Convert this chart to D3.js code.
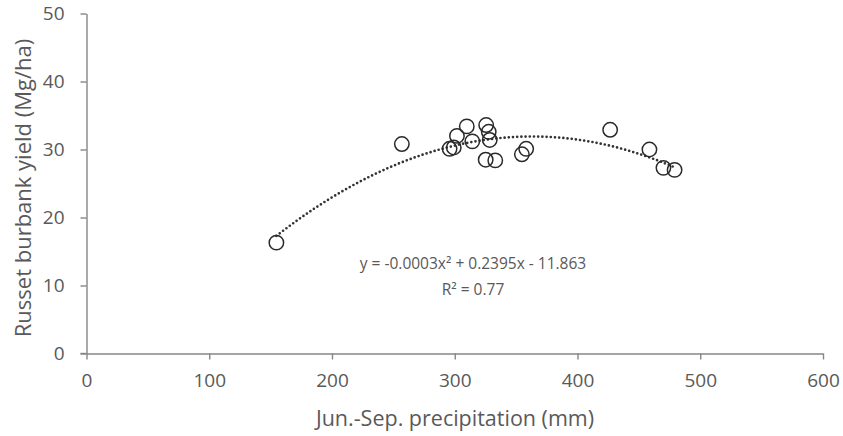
<!DOCTYPE html>
<html><head><meta charset="utf-8">
<script src="https://cdn.jsdelivr.net/npm/d3@7"></script>
<style>body{margin:0;background:#fff}svg{display:block}text{font-family:"Open Sans",sans-serif;fill:#595959}</style>
</head><body><div id="c"></div>
<script>
const precip = [154.7,256.9,295.8,299.2,301.8,309.8,314.3,325.6,327.7,328.5,325.2,333.0,354.7,358.2,426.6,458.6,470.0,479.1];
const yieldV = [16.3,30.8,30.1,30.3,32.0,33.4,31.2,33.6,32.6,31.4,28.5,28.4,29.3,30.1,32.9,30.0,27.3,27.0];
const xTicks = [0,100,200,300,400,500,600];
const yTicks = [0,10,20,30,40,50];
const xTitle = "Jun.-Sep. precipitation (mm)";
const yTitle = "Russet burbank yield (Mg/ha)";
const eqText = "y = -0.0003x² + 0.2395x - 11.863";
const r2Text = "R² = 0.77";

const W=843,H=436;
const svg=d3.select("#c").append("svg").attr("width",W).attr("height",H);
const x=d3.scaleLinear().domain([0,600]).range([86.5,823]);
const y=d3.scaleLinear().domain([0,50]).range([353.5,13.5]);
const axisColor="#868686";
const txtColor="#545454";

const ya=svg.append("g").attr("transform","translate(86.5,0)").call(d3.axisLeft(y).tickValues(yTicks).tickSize(6).tickPadding(16).tickSizeOuter(0));
const xa=svg.append("g").attr("transform","translate(0,353.5)").call(d3.axisBottom(x).tickValues(xTicks).tickSize(6).tickPadding(14).tickSizeOuter(0));
[ya,xa].forEach(g=>{g.select(".domain").attr("stroke",axisColor).attr("stroke-width",1.4);
 g.selectAll(".tick line").attr("stroke",axisColor).attr("stroke-width",1.4);
 g.selectAll(".tick text").attr("font-size",19).attr("fill",txtColor).style("font-family","'Open Sans',sans-serif");});
svg.append("line").attr("x1",80.5).attr("x2",86.5).attr("y1",353.5).attr("y2",353.5).attr("stroke",axisColor).attr("stroke-width",1.4);

// quadratic least-squares trendline computed from the data
function polyfit2(xs,ys){
 let n=xs.length,S=[0,0,0,0,0],T=[0,0,0];
 for(let i=0;i<n;i++){let p=1;for(let k=0;k<5;k++){S[k]+=p;if(k<3)T[k]+=p*ys[i];p*=xs[i];}}
 const A=[[S[0],S[1],S[2],T[0]],[S[1],S[2],S[3],T[1]],[S[2],S[3],S[4],T[2]]];
 for(let i=0;i<3;i++){for(let j=i+1;j<3;j++){const f=A[j][i]/A[i][i];for(let k=i;k<4;k++)A[j][k]-=f*A[i][k];}}
 const c=[0,0,0];
 for(let i=2;i>=0;i--){let s=A[i][3];for(let k=i+1;k<3;k++)s-=A[i][k]*c[k];c[i]=s/A[i][i];}
 return c;
}
const cf=polyfit2(precip,yieldV);
const x0=d3.min(precip),x1=d3.max(precip);
const curve=d3.range(0,101).map(i=>{const xv=x0+(x1-x0)*i/100;return [xv,cf[0]+cf[1]*xv+cf[2]*xv*xv];});
svg.append("path").datum(curve).attr("fill","none").attr("stroke","#333").attr("stroke-width",2.7)
 .attr("stroke-linecap","round").attr("stroke-dasharray","0,4.2")
 .attr("d",d3.line().x(d=>x(d[0])).y(d=>y(d[1])));

svg.append("g").selectAll("circle").data(precip).join("circle")
 .attr("cx",(d)=>x(d)).attr("cy",(d,i)=>y(yieldV[i])).attr("r",7.2)
 .attr("fill","none").attr("stroke","#2a2a2a").attr("stroke-width",1.5);

svg.append("text").attr("x",473).attr("y",269).attr("text-anchor","middle").attr("font-size",15.5).attr("fill",txtColor).text(eqText);
svg.append("text").attr("x",473).attr("y",295).attr("text-anchor","middle").attr("font-size",15.5).attr("fill",txtColor).text(r2Text);

svg.append("text").attr("x",455).attr("y",426).attr("text-anchor","middle").attr("font-size",21.5).attr("fill",txtColor).text(xTitle);
svg.append("text").attr("transform","translate(31,188) rotate(-90)").attr("text-anchor","middle").attr("font-size",22).attr("fill",txtColor).text(yTitle);
</script></body></html>
